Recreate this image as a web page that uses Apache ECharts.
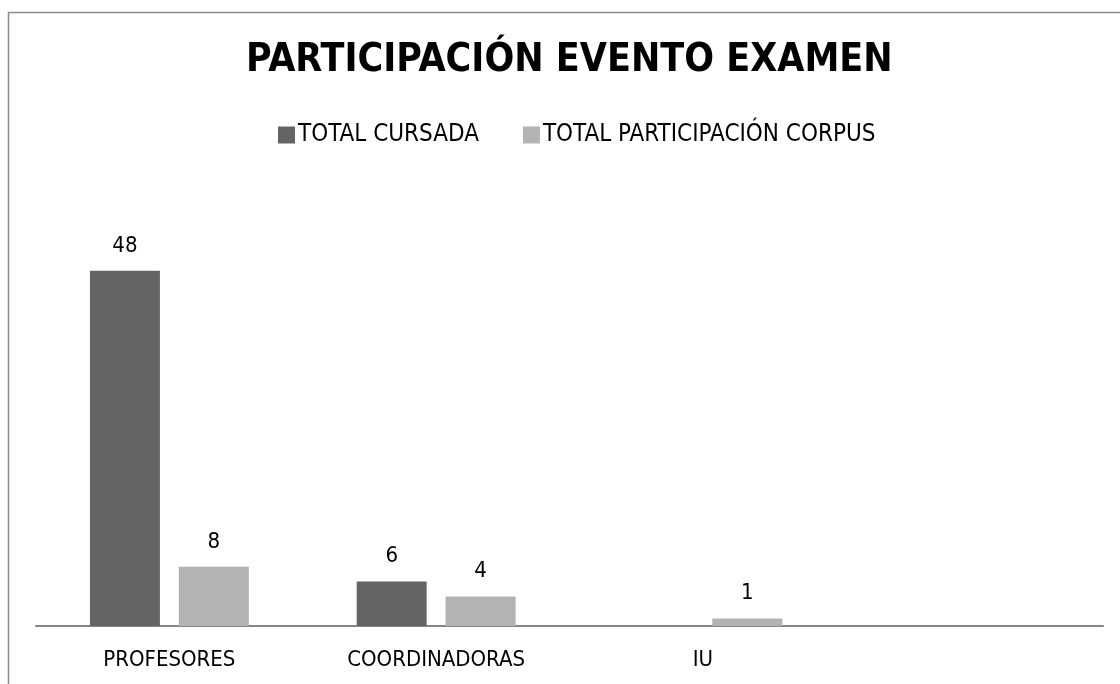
<!DOCTYPE html>
<html><head><meta charset="utf-8">
<script src="https://cdn.jsdelivr.net/npm/echarts@6/dist/echarts.min.js"></script>
<style>html,body{margin:0;padding:0;background:#fff}#c{width:1120px;height:684px}</style>
</head><body><div id="c"></div>
<script>
var categories = ['PROFESORES', 'COORDINADORAS', 'IU', ''];
var totalCursada = [48, 6, 0, null];
var totalParticipacion = [8, 4, 1, null];
var seriesNames = ['TOTAL CURSADA', 'TOTAL PARTICIPACIÓN CORPUS'];
var titleText = 'PARTICIPACIÓN EVENTO EXAMEN';

var FONT = '"Liberation Sans Narrow", "DejaVu Sans Condensed", "Liberation Sans", sans-serif';
var chart = echarts.init(document.getElementById('c'), null, {renderer: 'canvas'});
var labelOpt = {show: true, position: 'top', distance: 14, color: '#000', fontSize: 22, fontFamily: FONT,
  formatter: function (p) { return (p.value === 0 || p.value == null) ? '' : p.value; }};
chart.setOption({
  backgroundColor: '#fff',
  animation: false,
  title: {text: titleText, left: 246, top: 41, padding: 0,
    textStyle: {fontFamily: FONT, fontSize: 39, fontWeight: 'bold', color: '#000'}},
  legend: {top: 118, left: 273, itemWidth: 17, itemHeight: 17, itemGap: 44,
    icon: 'rect', textStyle: {fontFamily: FONT, fontSize: 24, color: '#000', padding: [0, 0, 0, -2]},
    data: seriesNames},
  graphic: [{type: 'rect', shape: {x: 8.5, y: 12.5, width: 1300, height: 900},
    style: {fill: null, stroke: '#8c8c8c', lineWidth: 1.5}, silent: true}],
  grid: {left: 36, right: 17, top: 182, bottom: 58, containLabel: false},
  xAxis: {type: 'category', data: categories,
    axisLine: {lineStyle: {color: '#868686', width: 2}},
    axisTick: {show: false},
    axisLabel: {color: '#000', fontSize: 22, fontFamily: FONT, margin: 23}},
  yAxis: {type: 'value', min: 0, max: 60, show: false, splitLine: {show: false}},
  series: [
    {name: seriesNames[0], type: 'bar', data: totalCursada, barWidth: 70, barGap: '27%',
      itemStyle: {color: '#646464'}, label: labelOpt},
    {name: seriesNames[1], type: 'bar', data: totalParticipacion, barWidth: 70,
      itemStyle: {color: '#b3b3b3'}, label: labelOpt}
  ]
});
</script></body></html>
